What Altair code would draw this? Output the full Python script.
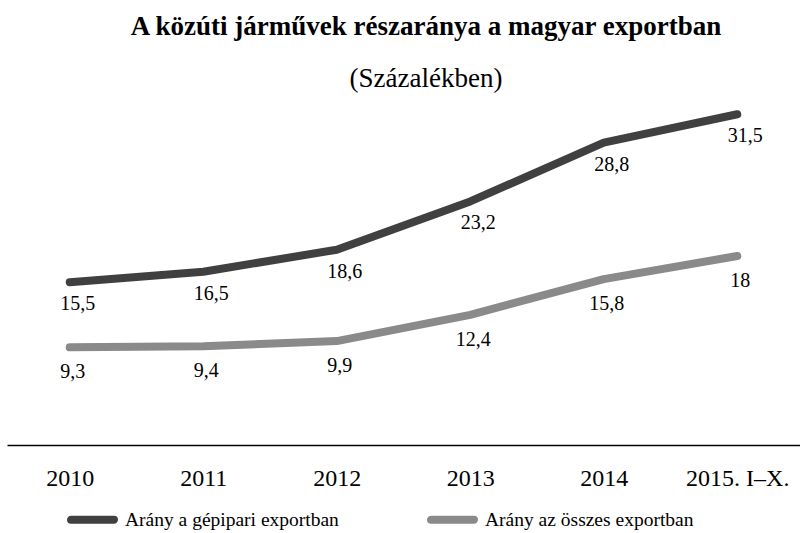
import altair as alt
import pandas as pd

categories = ["2010", "2011", "2012", "2013", "2014", "2015. I–X."]
gepipari = [15.5, 16.5, 18.6, 23.2, 28.8, 31.5]
osszes = [9.3, 9.4, 9.9, 12.4, 15.8, 18]
series_names = ["Arány a gépipari exportban", "Arány az összes exportban"]
title_text = "A közúti járművek részaránya a magyar exportban"
subtitle_text = "(Százalékben)"

rows = []
for c, v in zip(categories, gepipari):
    rows.append({"ev": c, "ertek": v, "sorozat": series_names[0]})
for c, v in zip(categories, osszes):
    rows.append({"ev": c, "ertek": v, "sorozat": series_names[1]})
df = pd.DataFrame(rows)

FONT = "Liberation Serif"
colors = ["#404040", "#8a8a8a"]

# rounded capsule outline used as the legend symbol
capsule = ("M-0.843,-0.0784 H0.843 A0.0784,0.0784 0 0 1 0.843,0.0784 "
           "H-0.843 A0.0784,0.0784 0 0 1 -0.843,-0.0784 Z")

x_enc = alt.X("ev:N", sort=categories, title=None,
              scale=alt.Scale(type="point", padding=0.47),
              axis=alt.Axis(labelAngle=0, ticks=False, grid=False, domain=True,
                            domainColor="#000000", domainWidth=1.5,
                            labelFont=FONT, labelFontSize=24, labelColor="#000000",
                            labelBaseline="alphabetic", labelPadding=40))
y_enc = alt.Y("ertek:Q", scale=alt.Scale(domain=[0, 32], nice=False, zero=True), axis=None)

base = alt.Chart(df)

lines = base.mark_line(strokeWidth=8, strokeCap="round", strokeJoin="round").encode(
    x=x_enc, y=y_enc,
    color=alt.Color("sorozat:N", sort=series_names,
                    scale=alt.Scale(domain=series_names, range=colors),
                    legend=alt.Legend(title=None, orient="none", direction="horizontal",
                                      legendX=58, legendY=383,
                                      symbolType=capsule, symbolSize=2601,
                                      symbolStrokeWidth=4, labelOffset=5,
                                      columnPadding=82,
                                      labelFont=FONT, labelFontSize=19.5,
                                      labelColor="#000000", labelLimit=400)),
    detail="sorozat:N",
)

lab_fmt = "replace(format(datum.ertek, '.1~f'), '.', ',')"

labels_dark = base.transform_filter(
    alt.datum.sorozat == series_names[0]
).transform_calculate(lab=lab_fmt).mark_text(
    font=FONT, fontSize=20, color="#000000", dx=8, dy=22, baseline="middle"
).encode(x=alt.X("ev:N", sort=categories), y=y_enc, text="lab:N")

labels_light = base.transform_filter(
    alt.datum.sorozat == series_names[1]
).transform_calculate(lab=lab_fmt).mark_text(
    font=FONT, fontSize=20, color="#000000", dx=3, dy=25, baseline="middle"
).encode(x=alt.X("ev:N", sort=categories), y=y_enc, text="lab:N")

title_mark = alt.Chart(pd.DataFrame({"t": [title_text]})).mark_text(
    font=FONT, fontSize=27, fontWeight="bold", color="#000000",
    align="center", baseline="alphabetic"
).encode(text="t:N", x=alt.value(419), y=alt.value(-74))

subtitle_mark = alt.Chart(pd.DataFrame({"t": [subtitle_text]})).mark_text(
    font=FONT, fontSize=27, color="#000000",
    align="center", baseline="alphabetic"
).encode(text="t:N", x=alt.value(419), y=alt.value(-22))

chart = alt.layer(lines, labels_dark, labels_light, title_mark, subtitle_mark).properties(
    width=793, height=336,
    autosize=alt.AutoSizeParams(type="none"),
    padding={"left": 7, "top": 109, "right": 0, "bottom": 88},
    background="#ffffff",
).configure_view(stroke=None)

chart.save("out.html", embed_options={"renderer": "svg", "actions": False})
